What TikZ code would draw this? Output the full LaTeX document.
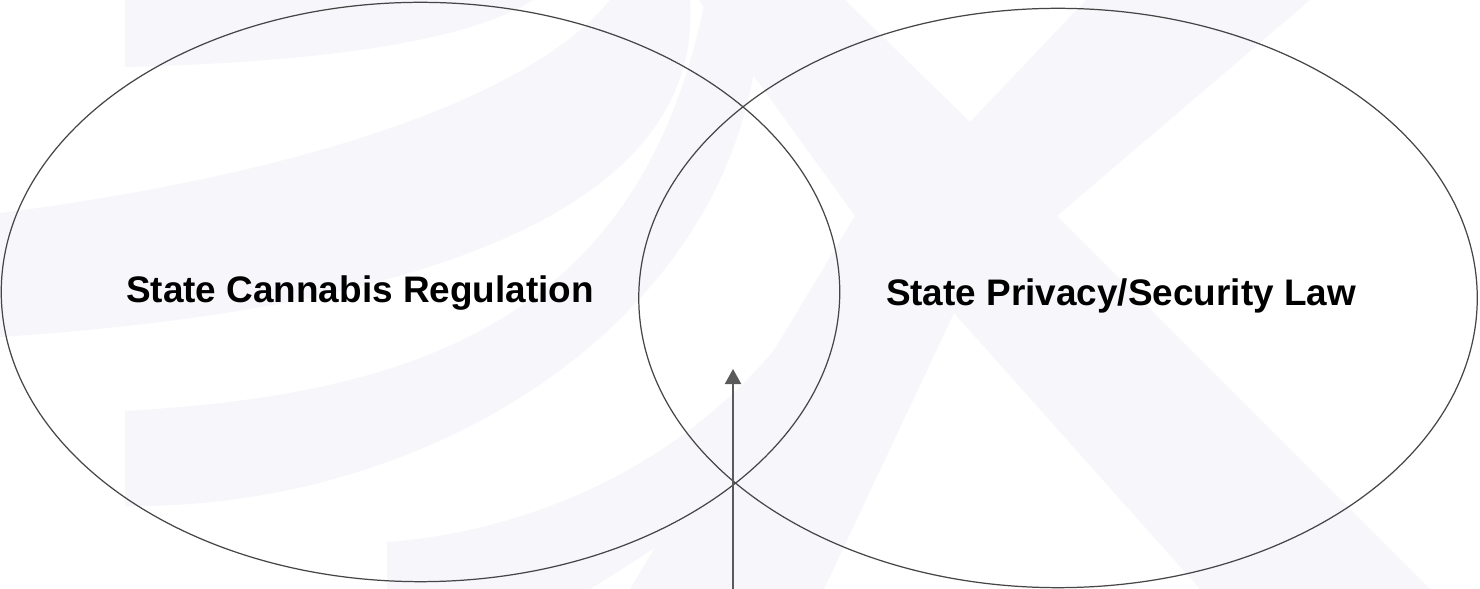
\documentclass[tikz,border=0pt]{standalone}
\usepackage{fontspec}
\setmainfont{Liberation Sans}
\usepackage{tikz}
\usetikzlibrary{shapes.geometric, arrows.meta}
\definecolor{wmark}{RGB}{247,246,250}
\definecolor{rimgray}{RGB}{70,70,70}
\definecolor{pointergray}{RGB}{90,90,90}

\begin{document}
\begin{tikzpicture}[x=0.01cm, y=-0.01cm,
  every node/.style={font=\fontsize{10.5}{12}\selectfont\bfseries},
  setring/.style={ellipse, draw=rimgray, line width=0.35pt, inner sep=0pt, minimum width=8.38cm, minimum height=5.79cm},
  setlabel/.style={anchor=base, inner sep=0pt},
  pointer/.style={draw=pointergray, line width=0.6pt, -{Triangle[width=0.16cm, length=0.15cm]}}]
  \useasboundingbox (0,0) rectangle (1480,589);
  \fill[white] (0,0) rectangle (1480,589);
  % faint logo behind the sets
  \fill[wmark] (125,0) -- (125,67) .. controls (330,62) and (470,40) .. (533,0) -- cycle;
  \fill[wmark] (0,213) .. controls (260,180) and (520,110) .. (610,0) -- (690,0) .. controls (700,150) and (560,300) .. (0,337) -- cycle;
  \fill[wmark] (125,411) .. controls (400,395) and (640,330) .. (705,0) -- (760,0) .. controls (760,300) and (450,510) .. (125,506) -- cycle;
  \fill[wmark] (387,589) -- (387,542) .. controls (550,530) and (700,450) .. (790,330) -- (820,390) .. controls (760,480) and (670,540) .. (590,589) -- cycle;
  \fill[wmark] (699,0) -- (845,0) -- (970,122) -- (1086,0) -- (1310,0) -- (1057,216) -- (1430,589) -- (1200,589) -- (954,313) -- (824,589) -- (630,589) -- (855,216) -- cycle;
  \node[setring] (cannabisset) at (420.5,292) {};
  \node[setring] (privacyset) at (1058,298) {};
  \node[setlabel] (cannabislbl) at (360,303) {State Cannabis Regulation};
  \node[setlabel] (privacylbl) at (1121,306) {State Privacy/Security Law};
  \coordinate (arrowfoot) at (733,589);
  \coordinate (overlap) at (733,369);
  \draw[pointer] (arrowfoot) -- (overlap);
\end{tikzpicture}
\end{document}
